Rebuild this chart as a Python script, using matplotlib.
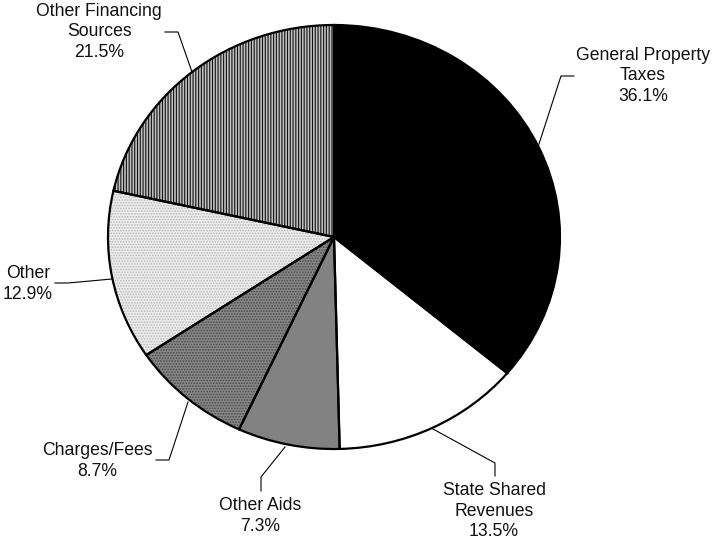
import matplotlib
matplotlib.use("Agg")
import matplotlib.pyplot as plt
from matplotlib.patches import Wedge

plt.rcParams['font.family'] = ['Liberation Sans', 'DejaVu Sans']

categories = ["General Property\nTaxes", "State Shared\nRevenues", "Other Aids",
              "Charges/Fees", "Other", "Other Financing\nSources"]
values = [36.1, 13.5, 7.3, 8.7, 12.9, 21.5]
labels = ["General Property\nTaxes\n36.1%", "State Shared\nRevenues\n13.5%", "Other Aids\n7.3%",
          "Charges/Fees\n8.7%", "Other\n12.9%", "Other Financing\nSources\n21.5%"]

face_colors = ["#000000", "#ffffff", "#828282", "#868686", "#ececec", "#c0c0c0"]
hatches = [None, None, None, "......", "......", "||||||"]
hatch_colors = [None, None, None, "#4a4a4a", "#b8b8b8", "#111111"]

W, H = 714, 544
CX, CY, RX, RY = 334, 237, 226, 212

def P(px, py):
    return ((px - CX) / RX, (CY - py) / RY)

fig = plt.figure(figsize=(W / 100, H / 100), dpi=100)
ax = fig.add_axes([0, 0, 1, 1])

wedges, _ = ax.pie(values, startangle=90, counterclock=False, colors=face_colors,
                   wedgeprops=dict(edgecolor="none", linewidth=0))
ax.set_aspect("auto")
x0, y0 = P(0, H)
x1, y1 = P(W, 0)
ax.set_xlim(x0, x1)
ax.set_ylim(y0, y1)
ax.axis("off")

plt.rcParams['hatch.linewidth'] = 0.8
for w, h, hc in zip(wedges, hatches, hatch_colors):
    if h:
        hw = Wedge(w.center, w.r, w.theta1, w.theta2, facecolor="none",
                   edgecolor=hc, linewidth=0, hatch=h, zorder=2)
        ax.add_patch(hw)
    ow = Wedge(w.center, w.r, w.theta1, w.theta2, facecolor="none",
               edgecolor="black", linewidth=1.6, zorder=3)
    ax.add_patch(ow)

# leader lines (pixel coordinates)
leaders = [
    [(538, 147), (561, 76), (574, 76)],
    [(433, 429), (495, 463), (495, 476)],
    [(285, 447), (261, 477), (261, 491)],
    [(188, 402), (169, 460), (156, 460)],
    [(112, 279), (68, 283), (55, 283)],
    [(192, 72), (178, 32), (165, 32)],
]
text_pos = [(643, 76), (494, 511), (260, 516), (97, 461), (28, 284), (99, 32)]

for pts, (tx, ty), lab in zip(leaders, text_pos, labels):
    xs, ys = zip(*[P(*p) for p in pts])
    ax.plot(xs, ys, color="black", lw=0.8, zorder=4)
    ax.text(*P(tx, ty), lab, ha="center", va="center", fontsize=12.7,
            linespacing=1.3, color="#111111")

fig.savefig("out.png", dpi=100)
